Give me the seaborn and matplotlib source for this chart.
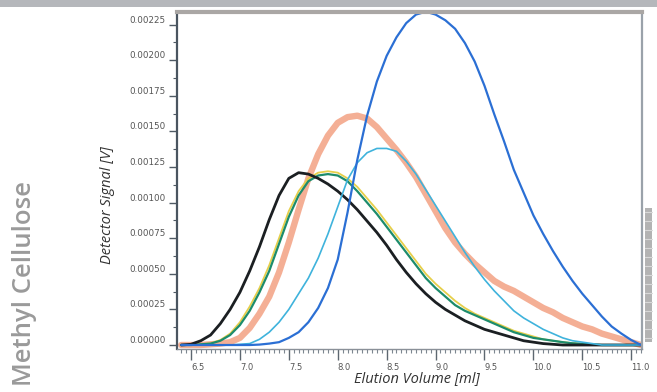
import numpy as np
import pandas as pd
import matplotlib
matplotlib.use("Agg")
import matplotlib.pyplot as plt
from matplotlib.patches import Rectangle
from matplotlib.ticker import MultipleLocator, FormatStrFormatter
import seaborn as sns

# Elution volume grid [ml]
volume = [6.4, 6.5, 6.6, 6.7, 6.8, 6.9, 7.0, 7.1, 7.2, 7.3, 7.4, 7.5, 7.6, 7.7, 7.8, 7.9,
          8.0, 8.1, 8.2, 8.3, 8.4, 8.5, 8.6, 8.7, 8.8, 8.9, 9.0, 9.1, 9.2, 9.3, 9.4, 9.5,
          9.6, 9.7, 9.8, 9.9, 10.0, 10.1, 10.2, 10.3, 10.4, 10.5, 10.6, 10.7, 10.8, 10.9,
          11.0, 11.1]

# Detector signal [V] for each sample
black = [0.0, 0.000005, 0.00003, 0.00007, 0.00015, 0.00025, 0.00037, 0.00052, 0.00069, 0.00088,
         0.00105, 0.00117, 0.00121, 0.00120, 0.00117, 0.00113, 0.00108, 0.00102, 0.00095, 0.00087,
         0.00079, 0.00070, 0.00060, 0.00051, 0.00043, 0.00036, 0.00030, 0.00025, 0.00021, 0.00017,
         0.00014, 0.00011, 0.00009, 0.00007, 0.00005, 0.00003, 0.00002, 0.00001, 0.000005, 0.0,
         0.0, 0.0, 0.0, 0.0, 0.0, 0.0, 0.0, 0.0]
yellow = [0.0, 0.0, 0.000005, 0.000012, 0.000035, 0.00008, 0.00016, 0.00027, 0.00040, 0.00056,
          0.00075, 0.00094, 0.00108, 0.00117, 0.00121, 0.00122, 0.00121, 0.00117, 0.00111, 0.00103,
          0.00095, 0.00086, 0.00077, 0.00068, 0.00059, 0.00050, 0.00043, 0.00037, 0.00031, 0.00026,
          0.00022, 0.00019, 0.00016, 0.00013, 0.00010, 0.00008, 0.00006, 0.00004, 0.00003, 0.00002,
          0.000013, 0.000008, 0.000004, 0.0, 0.0, 0.0, 0.0, 0.0]
green = [0.0, 0.0, 0.000005, 0.00001, 0.00003, 0.00007, 0.00014, 0.00024, 0.00037, 0.00052,
         0.00071, 0.00090, 0.00105, 0.00115, 0.00119, 0.00120, 0.00119, 0.00115, 0.00108, 0.00100,
         0.00092, 0.00083, 0.00074, 0.00065, 0.00056, 0.00047, 0.00040, 0.00034, 0.00028, 0.00024,
         0.00021, 0.00018, 0.00015, 0.00012, 0.00009, 0.00007, 0.00005, 0.00004, 0.00003, 0.00002,
         0.000012, 0.000008, 0.000004, 0.0, 0.0, 0.0, 0.0, 0.0]
orange = [0.0, 0.0, 0.0, 0.000005, 0.00001, 0.00002, 0.00005, 0.00012, 0.00022, 0.00034,
          0.00051, 0.00072, 0.00095, 0.00117, 0.00134, 0.00147, 0.00156, 0.00160, 0.00161, 0.00159,
          0.00153, 0.00145, 0.00137, 0.00128, 0.00118, 0.00106, 0.00094, 0.00082, 0.00072, 0.00064,
          0.00057, 0.00051, 0.00045, 0.00041, 0.00038, 0.00034, 0.00030, 0.00026, 0.00023, 0.00019,
          0.00016, 0.00013, 0.00011, 0.00008, 0.00006, 0.00004, 0.00002, 0.0]
lightblue = [0.0, 0.0, 0.0, 0.0, 0.0, 0.0, 0.000005, 0.00001, 0.00004, 0.00009,
             0.00016, 0.00025, 0.00036, 0.00047, 0.00061, 0.00078, 0.00097, 0.00116, 0.00128, 0.00135,
             0.00138, 0.00138, 0.00136, 0.00129, 0.00120, 0.00109, 0.00098, 0.00087, 0.00076, 0.00065,
             0.00055, 0.00046, 0.00038, 0.00031, 0.00024, 0.00019, 0.00015, 0.00011, 0.00008, 0.00005,
             0.00003, 0.00002, 0.00001, 0.0, 0.0, 0.0, 0.0, 0.0]
blue = [0.0, 0.0, 0.0, 0.0, 0.0, 0.0, 0.0, 0.0, 0.000003, 0.00001,
        0.00002, 0.00005, 0.00009, 0.00016, 0.00026, 0.00040, 0.00060, 0.00093, 0.00130, 0.00161,
        0.00185, 0.00203, 0.00216, 0.00226, 0.00232, 0.00234, 0.00232, 0.00228, 0.00222, 0.00212,
        0.00199, 0.00182, 0.00162, 0.00143, 0.00123, 0.00107, 0.00091, 0.00078, 0.00066, 0.00055,
        0.00045, 0.00036, 0.00028, 0.00020, 0.00013, 0.00008, 0.000035, 0.0]

xticks = [6.5, 7.0, 7.5, 8.0, 8.5, 9.0, 9.5, 10.0, 10.5, 11.0]
xtick_labels = ["6.5", "7.0", "7.5", "8.0", "8.5", "9.0", "9.5", "10.0", "10.5", "11.0"]

W, H = 657, 392
fig = plt.figure(figsize=(W / 100, H / 100), dpi=100)
sns.set_style("white")

ax = fig.add_axes([177 / W, (H - 349) / H, (642 - 177) / W, (349 - 12) / H])

# (values, colour, line width, alpha)
series = [
    (orange, "#f3a183", 4.6, 0.85),
    (yellow, "#e6cf4a", 1.3, 1.0),
    (green, "#1d8c6c", 1.6, 1.0),
    (black, "#1b1f22", 2.0, 1.0),
    (lightblue, "#3fb3dc", 1.2, 1.0),
    (blue, "#2b6fd4", 1.6, 1.0),
]
for vals, col, lw, a in series:
    sns.lineplot(x=volume, y=vals, ax=ax, color=col, linewidth=lw, alpha=a,
                 solid_capstyle="round", solid_joinstyle="round", clip_on=True)

ax.set_xlim(6.357, 11.11)
ax.set_ylim(-0.000028, 0.002338)

# ticks
ax.set_xticks(xticks)
ax.set_xticklabels(xtick_labels)
ax.xaxis.set_minor_locator(MultipleLocator(0.05))
ax.yaxis.set_major_locator(MultipleLocator(0.00025))
ax.yaxis.set_minor_locator(MultipleLocator(0.000125))
ax.yaxis.set_major_formatter(FormatStrFormatter("%.5f"))

ax.tick_params(axis="x", which="major", direction="out", length=8, width=1.0,
               color="#5d6770", labelsize=6, labelcolor="#555555", pad=2)
ax.tick_params(axis="x", which="minor", direction="out", length=3, width=0.8, color="#7d8790")
ax.tick_params(axis="y", which="major", direction="out", length=6, width=1.0,
               color="#4f5a64", labelsize=6.3, labelcolor="#555555", pad=2)
ax.tick_params(axis="y", which="minor", direction="out", length=3, width=0.8, color="#4f5a64")
ax.tick_params(left=True, bottom=True, which="both")
for lab in ax.get_xticklabels():
    lab.set_horizontalalignment("left")
for lab in ax.get_yticklabels():
    lab.set_verticalalignment("bottom")

for side, col, lw in [("left", "#4a5560", 1.6), ("top", "#aaa7a5", 3.0),
                      ("right", "#9aa2aa", 1.6), ("bottom", "#8a9098", 1.0)]:
    ax.spines[side].set_visible(True)
    ax.spines[side].set_color(col)
    ax.spines[side].set_linewidth(lw)

label_font = ["Open Sans", "DejaVu Sans"]
ax.set_ylabel("Detector Signal [V]", family=label_font, style="italic", fontsize=10.5,
              color="#333333")
ax.yaxis.set_label_coords((115 - 177) / (642 - 177), (349 - 205) / (349 - 12))
ax.set_xlabel("Elution Volume [ml]", family=label_font, style="italic", fontsize=10.5,
              color="#333333")
ax.xaxis.set_label_coords((417 - 177) / (642 - 177), -(371 - 349) / (349 - 12))

# header band and side title
fig.patches.append(Rectangle((0, 1 - 7 / H), 1, 7 / H, transform=fig.transFigure,
                             facecolor="#b5b7bb", edgecolor="none"))
fig.text(25 / W, 1 - 284 / H, "Methyl Cellulose", rotation=90, family=label_font,
         fontsize=18.5, fontweight="semibold", color="#9a9a9a", ha="center", va="center")

# small scale bar at the right edge
fig.patches.append(Rectangle((645 / W, 1 - 342 / H), 7 / W, (342 - 208) / H,
                             transform=fig.transFigure, facecolor="#b3b3b3", edgecolor="none"))
for yy in range(212, 340, 9):
    fig.lines.append(plt.Line2D([645 / W, 652 / W], [1 - yy / H, 1 - yy / H],
                                transform=fig.transFigure, color="#d8d8d8", lw=0.8))

fig.savefig("out.png", dpi=100)
